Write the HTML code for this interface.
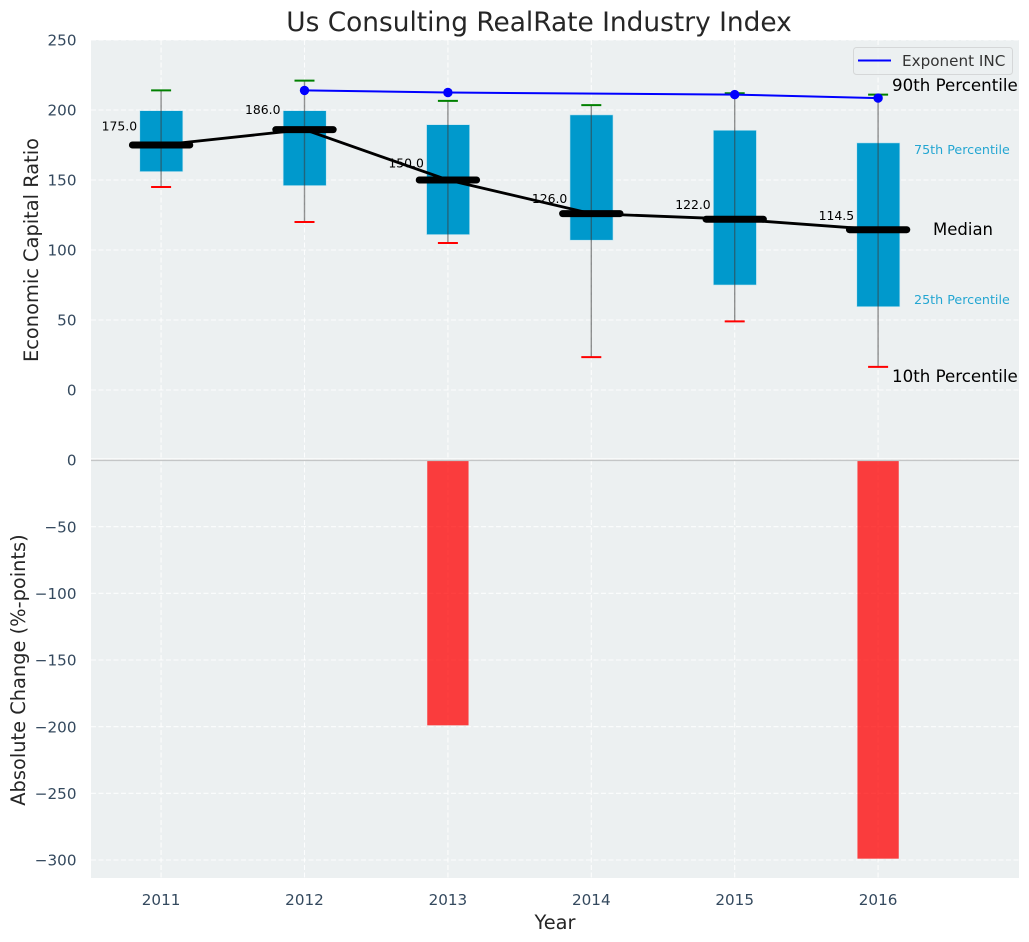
<!DOCTYPE html>
<html lang="en">
<head>
<meta charset="utf-8">
<title>Us Consulting RealRate Industry Index</title>
<style>
  html, body { margin: 0; padding: 0; background: #ffffff; }
  #chart { display: block; width: 1029px; height: 942px; font-family: "DejaVu Sans", "Liberation Sans", sans-serif; }
  text { font-family: "DejaVu Sans", "Liberation Sans", sans-serif; }
</style>
</head>
<body>
<svg id="chart" xmlns="http://www.w3.org/2000/svg" width="1029" height="942" viewBox="0 0 1029 942">
  <rect x="0" y="0" width="1029" height="942" fill="#ffffff"></rect>
  <rect x="91" y="40" width="928" height="838" fill="#ecf0f1"></rect>
  <g id="grid"></g>
  <line x1="91" y1="459" x2="1019" y2="459" stroke="#ffffff" stroke-width="1.2"></line>
  <g id="boxes"></g>
  <g id="bars"></g>
  <g id="median-line-layer"></g>
  <g id="exponent-layer"></g>
  <g id="value-labels"></g>
  <g id="tick-labels"></g>
  <line x1="91" y1="460.4" x2="1019" y2="460.4" stroke="#c4c6c7" stroke-width="1.5"></line>

  <text x="539" y="31" font-size="26.4px" fill="#262626" text-anchor="middle">Us Consulting RealRate Industry Index</text>
  <text transform="translate(38,250) rotate(-90)" font-size="19.4px" fill="#262626" text-anchor="middle">Economic Capital Ratio</text>
  <text transform="translate(25,670) rotate(-90)" font-size="19.4px" fill="#262626" text-anchor="middle">Absolute Change (%-points)</text>
  <text x="555" y="929" font-size="19.4px" fill="#262626" text-anchor="middle">Year</text>

  <g>
    <rect x="853.5" y="47.5" width="159" height="27" rx="3" fill="#ecf0f1" fill-opacity="0.8" stroke="#d5d7d8" stroke-width="1"></rect>
    <line x1="858" y1="60.5" x2="891" y2="60.5" stroke="#0000ff" stroke-width="2"></line>
    <text x="902" y="66" font-size="15.2px" fill="#333333">Exponent INC</text>
  </g>

  <text x="892" y="91" font-size="16.67px" fill="#000000">90th Percentile</text>
  <text x="914" y="154" font-size="12.7px" fill="#0099cc" fill-opacity="0.85">75th Percentile</text>
  <text x="933" y="235" font-size="16.5px" fill="#000000">Median</text>
  <text x="914" y="304" font-size="12.7px" fill="#0099cc" fill-opacity="0.85">25th Percentile</text>
  <text x="892" y="382" font-size="16.67px" fill="#000000">10th Percentile</text>
</svg>
<script>
const years = [2011, 2012, 2013, 2014, 2015, 2016];
const percentile10 = [145, 120, 105, 23.5, 49, 16.5];
const percentile25 = [156, 146, 111, 107, 75, 59.5];
const medians = [175.0, 186.0, 150.0, 126.0, 122.0, 114.5];
const percentile75 = [199.5, 199.5, 189.5, 196.5, 185.5, 176.5];
const percentile90 = [214, 221, 206.5, 203.5, 212, 211];
const exponentInc = [null, 214, 212.5, null, 211, 208.5];
const absoluteChange = [0, 0, -199, 0, 0, -299];
const topTicks = [250, 200, 150, 100, 50, 0];
const bottomTicks = [0, -50, -100, -150, -200, -250, -300];

const SVGNS = 'http://www.w3.org/2000/svg';
const xAxis = i => 161.1 + 143.4 * i;
const yTop = v => 390 - 1.4 * v;
const yBottom = v => 460 - (4 / 3) * v;
const slot = 143.4;

function make(parent, tag, attrs, text) {
  const el = document.createElementNS(SVGNS, tag);
  for (const k in attrs) el.setAttribute(k, attrs[k]);
  if (text !== undefined) el.textContent = text;
  parent.appendChild(el);
  return el;
}
const fmtTick = v => (v < 0 ? '\u2212' + Math.abs(v) : String(v));

const gridG = document.getElementById('grid');
const tickG = document.getElementById('tick-labels');
const boxG = document.getElementById('boxes');
const barG = document.getElementById('bars');
const medG = document.getElementById('median-line-layer');
const expG = document.getElementById('exponent-layer');
const valG = document.getElementById('value-labels');
const gridStyle = { stroke: '#ffffff', 'stroke-width': 1.1, 'stroke-dasharray': '5 2.5', 'stroke-opacity': 0.85 };

topTicks.forEach(v => {
  const line = make(gridG, 'line', Object.assign({ x1: 91, x2: 1019, y1: yTop(v), y2: yTop(v) }, gridStyle));
  
  
  const label = make(tickG, 'text', { x: 76.5, y: yTop(v) + 5.7, 'font-size': '15.2px', fill: '#34495e', 'text-anchor': 'end' }, fmtTick(v));
  
  
});

bottomTicks.forEach(v => {
  const line = make(gridG, 'line', Object.assign({ x1: 91, x2: 1019, y1: yBottom(v), y2: yBottom(v) }, gridStyle));
  
  
  const label = make(tickG, 'text', { x: 76.5, y: yBottom(v) + 5.7, 'font-size': '15.2px', fill: '#34495e', 'text-anchor': 'end' }, fmtTick(v));
  
  
});

years.forEach((yr, i) => {
  const x = xAxis(i);
  const line = make(gridG, 'line', Object.assign({ x1: x, x2: x, y1: 40, y2: 878 }, gridStyle));
  
  
  const label = make(tickG, 'text', { x: x, y: 905, 'font-size': '15.2px', fill: '#34495e', 'text-anchor': 'middle' }, String(yr));
  
  
});

years.forEach((yr, i) => {
  const x = xAxis(i);
  const bw = slot * 0.3;

  const box = make(boxG, 'rect', {
    x: x - bw / 2 + 0.2, y: yTop(percentile75[i]), width: bw,
    height: yTop(percentile25[i]) - yTop(percentile75[i]),
    fill: '#0099cc', stroke: '#bfe3ef', 'stroke-width': 0.6
  });
  
  

  const whisker = make(boxG, 'line', {
    x1: x, x2: x, y1: yTop(percentile90[i]), y2: yTop(percentile10[i]),
    stroke: '#3a3a3a', 'stroke-opacity': 0.55, 'stroke-width': 1.4
  });
  
  

  const capHigh = make(boxG, 'line', {
    x1: x - 10, x2: x + 10, y1: yTop(percentile90[i]), y2: yTop(percentile90[i]),
    stroke: '#008000', 'stroke-width': 2
  });
  
  

  const capLow = make(boxG, 'line', {
    x1: x - 10, x2: x + 10, y1: yTop(percentile10[i]), y2: yTop(percentile10[i]),
    stroke: '#ff0000', 'stroke-width': 2
  });
  
  

  if (absoluteChange[i] !== 0) {
    const barW = slot * 0.288;
    const bar = make(barG, 'rect', {
      x: x - barW / 2, y: yBottom(0), width: barW,
      height: yBottom(absoluteChange[i]) - yBottom(0),
      fill: '#ff0000', 'fill-opacity': 0.75
    });
    
    
  }
});

const trend = make(medG, 'polyline', {
  points: medians.map((m, i) => xAxis(i) + ',' + yTop(m)).join(' '),
  fill: 'none', stroke: '#000000', 'stroke-width': 2.8
});



medians.forEach((m, i) => {
  const x = xAxis(i);
  const seg = make(medG, 'line', {
    x1: x - slot * 0.2, x2: x + slot * 0.2, y1: yTop(m), y2: yTop(m),
    stroke: '#000000', 'stroke-width': 7, 'stroke-linecap': 'round'
  });
  
  

  const label = make(valG, 'text', {
    x: x - 24, y: yTop(m * 1.06), 'font-size': '12.4px', fill: '#000000', 'text-anchor': 'end'
  }, m.toFixed(1));
  
  
});

const expPoints = exponentInc.map((v, i) => (v === null ? null : [xAxis(i), yTop(v)])).filter(Boolean);
const expLine = make(expG, 'polyline', {
  points: expPoints.map(p => p.join(',')).join(' '),
  fill: 'none', stroke: '#0000ff', 'stroke-width': 2
});



exponentInc.forEach((v, i) => {
  if (v === null) return;
  const dot = make(expG, 'circle', { cx: xAxis(i), cy: yTop(v), r: 4.7, fill: '#0000ff' });
  
  
});
</script>
</body>
</html>
